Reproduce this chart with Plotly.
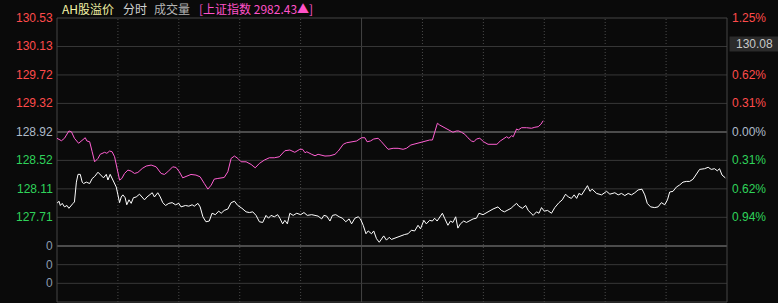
import plotly.graph_objects as go

# ---------------- data ----------------
# white line: AH premium index (left axis), x = minute index of the session (0..242)
white_t = [0, 0.7, 1.2, 1.9, 2.7, 3.6, 4.3, 5.2, 5.8, 6.3, 7.0, 7.6, 8.4, 9.1, 9.6, 10.6, 11.8, 12.7, 13.6, 14.8,
           16.0, 16.8, 17.8, 18.4, 19.2, 20.2, 21.4, 22.0, 22.6, 23.2, 23.8, 24.6, 25.2, 26.0, 26.8, 27.6, 28.6, 29.8,
           30.8, 31.6, 32.5, 33.4, 34.4, 35.2, 36.4, 37.3, 38.2, 39.2, 40.4, 41.6, 42.8, 44.0, 44.8, 46.4, 47.6, 48.8,
           49.6, 50.9, 51.7, 52.7, 53.8, 55.0, 56.0, 57.2, 58.4, 59.3, 60.4, 61.7, 62.9, 64.1, 65.3, 66.8, 68.3, 69.5,
           70.7, 71.9, 73.1, 74.3, 75.5, 76.4, 77.3, 78.5, 79.7, 80.5, 81.5, 82.3, 83.2, 84.1, 85.3, 86.6, 88.0, 89.2,
           90.4, 92.0, 93.2, 94.3, 95.6, 96.4, 97.4, 98.6, 99.5, 100.7, 101.9, 103.1, 104.3, 105.5, 106.4, 107.6, 108.8,
           109.6, 110.6, 111.6, 112.4, 113.6, 114.4, 115.4, 116.4, 117.2, 118.0, 119.0, 120.0, 120.8, 122.0, 123.2,
           124.4, 125.6, 126.8, 128.0, 129.2, 130.4, 131.3, 132.5, 133.4, 134.6, 135.6, 136.4, 137.3, 138.2, 139.2,
           140.0, 141.2, 142.1, 143.0, 144.0, 144.8, 145.7, 146.9, 147.9, 149.1, 150.3, 151.5, 152.4, 153.9, 155.1,
           156.3, 157.5, 159.3, 160.5, 161.6, 162.8, 164.0, 164.8, 166.0, 166.8, 168.1, 169.3, 170.2, 172.0, 173.2,
           174.1, 175.0, 176.0, 177.2, 178.6, 179.8, 181.3, 182.5, 183.7, 184.7, 185.8, 186.8, 187.7, 188.5, 189.5,
           190.7, 191.6, 192.5, 193.3, 194.9, 196.7, 198.5, 199.7, 201.5, 202.7, 203.9, 205.1, 206.3, 207.5, 208.7,
           209.9, 211.3, 212.3, 213.2, 214.4, 215.9, 217.1, 218.3, 219.5, 220.5, 221.3, 222.5, 223.7, 224.9, 226.1,
           227.3, 228.5, 229.7, 230.9, 232.1, 233.9, 235.2, 236.3, 237.5, 238.5, 239.3, 240.2, 241.4]
white_v = [127.91, 127.94, 127.88, 127.91, 127.86, 127.88, 127.84, 127.89, 127.91, 127.93, 128.21, 128.32, 128.32,
           128.21, 128.19, 128.21, 128.19, 128.26, 128.29, 128.35, 128.31, 128.27, 128.32, 128.24, 128.32, 128.24,
           128.14, 128.03, 127.92, 128.00, 128.03, 127.99, 127.89, 127.96, 127.91, 127.99, 128.00, 128.04, 128.00,
           127.96, 128.00, 128.03, 128.06, 128.00, 128.06, 128.00, 127.92, 127.88, 127.91, 127.92, 127.89, 127.91,
           127.86, 127.88, 127.87, 127.89, 127.87, 127.91, 127.86, 127.72, 127.65, 127.66, 127.77, 127.75, 127.80,
           127.77, 127.81, 127.83, 127.92, 127.94, 127.88, 127.84, 127.79, 127.78, 127.79, 127.74, 127.65, 127.64,
           127.74, 127.70, 127.74, 127.72, 127.75, 127.70, 127.62, 127.67, 127.62, 127.77, 127.74, 127.77, 127.75,
           127.78, 127.74, 127.75, 127.74, 127.73, 127.69, 127.74, 127.73, 127.66, 127.74, 127.75, 127.72, 127.70,
           127.65, 127.69, 127.62, 127.70, 127.72, 127.69, 127.60, 127.48, 127.52, 127.48, 127.52, 127.41, 127.36,
           127.41, 127.45, 127.39, 127.43, 127.40, 127.42, 127.43, 127.45, 127.47, 127.48, 127.53, 127.52, 127.60,
           127.55, 127.67, 127.62, 127.67, 127.66, 127.70, 127.66, 127.72, 127.77, 127.70, 127.60, 127.66, 127.64,
           127.72, 127.56, 127.62, 127.66, 127.64, 127.67, 127.69, 127.70, 127.77, 127.75, 127.78, 127.81, 127.83,
           127.86, 127.81, 127.79, 127.81, 127.84, 127.87, 127.91, 127.87, 127.84, 127.88, 127.81, 127.74, 127.79,
           127.77, 127.85, 127.80, 127.81, 127.77, 127.85, 127.92, 127.96, 128.04, 128.00, 127.98, 128.03, 127.98,
           128.05, 128.03, 128.10, 128.16, 128.08, 128.11, 128.05, 128.03, 128.08, 128.04, 128.06, 128.03, 128.05,
           128.02, 128.05, 128.03, 128.06, 128.10, 128.11, 128.03, 127.91, 127.86, 127.85, 127.86, 127.92, 127.89,
           127.96, 128.07, 128.08, 128.14, 128.17, 128.21, 128.22, 128.22, 128.25, 128.32, 128.39, 128.40, 128.42,
           128.39, 128.40, 128.37, 128.40, 128.31, 128.27]

# pink line: Shanghai Composite change in % (right axis)
pink_t = [0, 1.6, 2.7, 4.3, 5.2, 6.3, 7.8, 9.4, 10.2, 10.8, 11.8, 12.7, 13.6, 14.8, 15.6, 17.2, 18.0, 19.0, 19.9,
          20.8, 21.6, 22.6, 23.4, 24.4, 25.6, 26.8, 28.0, 29.2, 30.8, 32.2, 34.0, 35.8, 37.6, 38.8, 40.0, 41.8, 43.0,
          44.2, 45.4, 47.2, 48.4, 50.2, 51.7, 53.2, 54.5, 55.7, 56.8, 58.1, 59.3, 60.4, 61.7, 62.9, 64.1, 65.3, 66.5,
          68.3, 70.1, 71.6, 73.1, 74.9, 76.7, 78.5, 80.3, 81.3, 82.3, 84.1, 85.9, 87.7, 88.7, 89.6, 90.2, 92.0, 93.2,
          94.3, 95.6, 96.8, 98.6, 100.4, 101.6, 103.4, 104.6, 106.4, 108.2, 110.0, 111.2, 112.0, 113.2, 114.4, 116.0,
          117.2, 118.4, 119.6, 121.4, 123.2, 125.0, 126.2, 127.8, 129.2, 131.0, 132.8, 134.6, 135.6, 136.4, 137.4,
          138.2, 139.4, 140.7, 141.8, 143.0, 144.3, 145.1, 146.1, 147.3, 148.4, 149.7, 150.6, 151.5, 152.7, 154.1,
          155.7, 157.5, 158.9, 160.1, 161.3, 162.4, 163.2, 164.2, 164.8, 166.0, 166.6, 167.8, 169.6, 171.4, 172.6,
          173.8, 174.8, 175.6]
pink_p = [-0.070, -0.097, -0.070, 0.010, 0.002, -0.070, -0.125, -0.089, -0.064, -0.100, -0.108, -0.218, -0.328,
          -0.291, -0.246, -0.224, -0.235, -0.210, -0.218, -0.273, -0.401, -0.529, -0.511, -0.456, -0.419, -0.430,
          -0.456, -0.445, -0.401, -0.375, -0.364, -0.383, -0.456, -0.467, -0.438, -0.383, -0.390, -0.438, -0.504,
          -0.482, -0.467, -0.474, -0.493, -0.566, -0.628, -0.584, -0.518, -0.511, -0.504, -0.500, -0.438, -0.291,
          -0.265, -0.291, -0.328, -0.328, -0.357, -0.394, -0.346, -0.309, -0.284, -0.284, -0.273, -0.235, -0.207,
          -0.199, -0.224, -0.191, -0.191, -0.229, -0.218, -0.246, -0.262, -0.246, -0.254, -0.265, -0.262, -0.246,
          -0.210, -0.136, -0.119, -0.108, -0.100, -0.064, -0.064, -0.108, -0.100, -0.078, -0.070, -0.108, -0.155,
          -0.191, -0.180, -0.180, -0.191, -0.180, -0.144, -0.133, -0.114, -0.100, -0.089, -0.089, 0.002, 0.095,
          0.076, 0.057, 0.032, 0.010, -0.004, 0.010, 0.010, -0.004, -0.026, -0.064, -0.100, -0.108, -0.078, -0.070,
          -0.108, -0.136, -0.136, -0.136, -0.100, -0.070, -0.053, -0.070, -0.042, -0.053, 0.032, 0.021, 0.046,
          0.046, 0.040, 0.051, 0.057, 0.084, 0.123]

left_tick_labels = ["130.53", "130.13", "129.72", "129.32", "128.92", "128.52", "128.11", "127.71"]
right_tick_labels = ["1.25%", "0.94%", "0.62%", "0.31%", "0.00%", "0.31%", "0.62%", "0.94%"]
lower_tick_labels = ["0", "0", "0"]
base_value = 128.92
value_step = 0.4025
pct_step = 0.3125
last_value_label = "130.08"
title_parts = ["AH股溢价", "分时", "成交量", "[上证指数 2982.43▲]"]

# ---------------- styling ----------------
W, H = 778, 303
L, R, T, B = 57, 51, 18, 1
PW, PH = W - L - R, H - T - B
split = 56 / PH  # lower panel share
BG = "#0a0a0a"
GRID = "#383838"
THICK = "#4c4c4c"
RED = "#ff4b4b"
GREEN = "#2fd35a"
NEUT = "#aebbc9"
FONT = "Liberation Sans, Arial, Noto Sans CJK SC, sans-serif"
CJK = "Noto Sans CJK SC, Liberation Sans, sans-serif"

px_per_unit = 114.0  # pixels from centre line to top
y_lo = base_value - 4 * value_step * (114.1 / 113.9)
y_hi = base_value + 4 * value_step
p_lo = -4 * pct_step * (114.1 / 113.9)
p_hi = 4 * pct_step

tick_pos = [base_value + (4 - i) * value_step for i in range(len(left_tick_labels))]

fig = go.Figure()
fig.add_trace(go.Scatter(x=white_t, y=white_v, mode="lines", line=dict(color="#ffffff", width=1),
                         yaxis="y", hoverinfo="skip"))
fig.add_trace(go.Scatter(x=pink_t, y=pink_p, mode="lines", line=dict(color="#ff5fd2", width=1),
                         yaxis="y2", hoverinfo="skip"))

shapes = []
# vertical grid lines
for k in range(1, 11):
    t = 22 * k
    shapes.append(dict(type="line", xref="x", yref="paper", x0=t, x1=t, y0=0, y1=1,
                       line=dict(color="#4a4a4a" if k != 5 else "#444444", width=1,
                                 dash="solid" if k == 5 else "1px,2px"), layer="below"))
# horizontal grid lines of the main panel
for i, v in enumerate(tick_pos):
    if i == 0:
        continue
    thick = (i == 4)
    shapes.append(dict(type="line", xref="paper", yref="y", x0=0, x1=1, y0=v, y1=v,
                       line=dict(color=THICK if thick else GRID, width=2 if thick else 1), layer="below"))
# lower panel lines
shapes.append(dict(type="line", xref="paper", yref="paper", x0=0, x1=1, y0=split, y1=split,
                   line=dict(color=THICK, width=2), layer="below"))
for v in [1, 2]:
    shapes.append(dict(type="line", xref="paper", yref="y3", x0=0, x1=1, y0=v, y1=v,
                       line=dict(color=GRID, width=1), layer="below"))
# border
shapes.append(dict(type="rect", xref="paper", yref="paper", x0=0, x1=1, y0=0, y1=1,
                   line=dict(color="#444444", width=1), layer="below"))

ann = []
lx = (55 - L) / PW
rx = (729.5 - L) / PW
for i, (lab, v) in enumerate(zip(left_tick_labels, tick_pos)):
    col = RED if i < 4 else (NEUT if i == 4 else GREEN)
    ann.append(dict(x=lx, y=v, xref="paper", yref="y", text=lab, showarrow=False, xanchor="right",
                    yanchor="middle", font=dict(family=FONT, size=12, color=col)))
for i, (lab, v) in enumerate(zip(right_tick_labels, tick_pos)):
    col = RED if i < 4 else (NEUT if i == 4 else GREEN)
    ann.append(dict(x=rx, y=v, xref="paper", yref="y", text=lab, showarrow=False, xanchor="left",
                    yanchor="middle", font=dict(family=FONT, size=12, color=col)))
for lab, v in zip(lower_tick_labels, [3, 2, 1]):
    ann.append(dict(x=lx, y=v, xref="paper", yref="y3", text=lab, showarrow=False, xanchor="right",
                    yanchor="middle", font=dict(family=FONT, size=12, color="#8a9bb0")))
# last value box
ann.append(dict(x=(729 - L) / PW, y=(H - 43.5 - B) / PH, xref="paper", yref="paper", text=last_value_label,
                showarrow=False, xanchor="left", yanchor="middle", width=47, height=12, borderpad=1,
                bgcolor="#2b2b2b", align="center", font=dict(family=FONT, size=12, color="#c8c8c8")))
# title row
title_x = [60, 120.5, 151.5, 196.5]
title_col = ["#f2f2a6", "#d2d2d2", "#b4b4b4", "#ff52c8"]
for txt, x, c in zip(title_parts, title_x, title_col):
    ann.append(dict(x=(x - L) / PW, y=1 + (T - 8.5) / PH, xref="paper", yref="paper", text=txt,
                    showarrow=False, xanchor="left", yanchor="middle", font=dict(family=CJK, size=12, color=c)))

fig.update_layout(
    width=W, height=H, margin=dict(l=L, r=R, t=T, b=B),
    paper_bgcolor=BG, plot_bgcolor=BG, showlegend=False,
    xaxis=dict(range=[0, 242], showgrid=False, zeroline=False, showticklabels=False, ticks="",
               anchor="y3", fixedrange=True),
    yaxis=dict(domain=[split, 1], range=[y_lo, y_hi], showgrid=False, zeroline=False,
               showticklabels=False, ticks=""),
    yaxis2=dict(domain=[split, 1], range=[p_lo, p_hi], overlaying="y", side="right", showgrid=False,
                zeroline=False, showticklabels=False, ticks=""),
    yaxis3=dict(domain=[0, split], range=[0, 3], showgrid=False, zeroline=False, showticklabels=False,
                ticks=""),
    shapes=shapes, annotations=ann,
)
fig.write_html("out.html", config={"displayModeBar": False})
